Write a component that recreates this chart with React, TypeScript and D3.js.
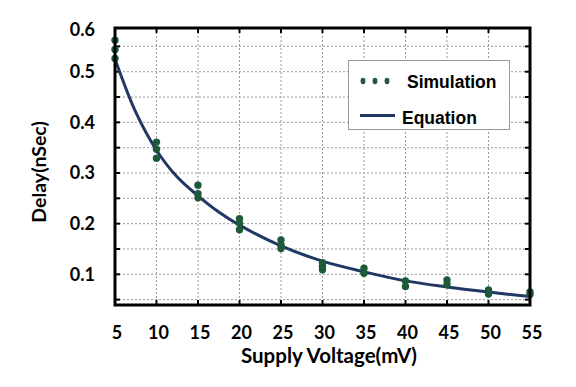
import * as d3 from 'd3';

const W = 576;
const H = 387;

// simulation samples (mV, nSec)
const simVoltage = [5, 5, 5, 10, 10, 10, 15, 15, 15, 20, 20, 20, 25, 25, 25, 30, 30, 30, 35, 35, 40, 40, 45, 45, 50, 50, 55, 55];
const simDelay = [0.562, 0.544, 0.526, 0.361, 0.347, 0.329, 0.276, 0.259, 0.251, 0.21, 0.201, 0.188, 0.168, 0.158, 0.151, 0.123, 0.116, 0.109, 0.112, 0.102, 0.087, 0.076, 0.089, 0.08, 0.069, 0.061, 0.065, 0.06];

// equation curve
const eqVoltage = [5, 7.5, 10, 12.5, 15, 17.5, 20, 25, 30, 35, 40, 45, 50, 55];
const eqDelay = [0.525, 0.42, 0.345, 0.292, 0.255, 0.223, 0.197, 0.156, 0.126, 0.105, 0.087, 0.075, 0.065, 0.056];

const xTicks = [5, 10, 15, 20, 25, 30, 35, 40, 45, 50, 55];
const yTickValues = [0.1, 0.2, 0.3, 0.4, 0.5, 0.6];
const yTickLabels = ['0.1', '0.2', '0.3', '0.4', '0.5', '0.6'];
const yGrid = [0.05, 0.1, 0.15, 0.2, 0.25, 0.3, 0.35, 0.4, 0.45, 0.5, 0.55];

const left = 115;
const right = 530;
const top = 28;
const bottom = 305;

const font = 'Lato, "Open Sans", sans-serif';
const green = '#1e5a3a';
const navy = '#1f3864';

export default function App() {
  const x = d3.scaleLinear().domain([5, 55]).range([left, right]);
  const y = d3.scaleLinear().domain([0.0394, 0.5863]).range([bottom, top]);

  const line = d3
    .line<number>()
    .x((_, i) => x(eqVoltage[i]))
    .y((d) => y(d))
    .curve(d3.curveCatmullRom);

  return (
    <svg width={W} height={H} style={{ position: 'absolute', left: 0, top: 0, background: '#fff' }}>
      {/* grid */}
      {xTicks.slice(1, -1).map((t) => (
        <line key={'gx' + t} x1={x(t)} x2={x(t)} y1={top} y2={bottom} stroke="#999" strokeWidth={1} strokeDasharray="2,2" />
      ))}
      {yGrid.map((t) => (
        <line key={'gy' + t} x1={left} x2={right} y1={y(t)} y2={y(t)} stroke="#999" strokeWidth={1} strokeDasharray="2,2" />
      ))}

      {/* inner ticks */}
      {xTicks.slice(1, -1).map((t) => (
        <g key={'tx' + t}>
          <line x1={x(t)} x2={x(t)} y1={top} y2={top + 5} stroke="#000" strokeWidth={2} />
          <line x1={x(t)} x2={x(t)} y1={bottom} y2={bottom - 5} stroke="#000" strokeWidth={2} />
        </g>
      ))}
      {yGrid.map((t) => (
        <g key={'ty' + t}>
          <line x1={left} x2={left + 5} y1={y(t)} y2={y(t)} stroke="#000" strokeWidth={2} />
          <line x1={right} x2={right - 5} y1={y(t)} y2={y(t)} stroke="#000" strokeWidth={2} />
        </g>
      ))}

      {/* equation */}
      <path d={line(eqDelay) || ''} fill="none" stroke={navy} strokeWidth={3} />

      {/* simulation */}
      {simDelay.map((d, i) => (
        <circle key={'p' + i} cx={x(simVoltage[i])} cy={y(d)} r={3.7} fill={green} />
      ))}

      {/* frame */}
      <rect x={left} y={top} width={right - left} height={bottom - top} fill="none" stroke="#000" strokeWidth={3} />

      {/* tick labels */}
      {xTicks.map((t) => (
        <text key={'lx' + t} x={x(t) + 2} y={338.5} textAnchor="middle" fontFamily={font} fontWeight={700} fontSize={18} fill="#000">
          {t}
        </text>
      ))}
      {yTickValues.map((t, i) => (
        <text key={'ly' + t} x={95} y={Math.max(y(t), top + 2)} dy="0.36em" textAnchor="end" fontFamily={font} fontWeight={700} fontSize={18} fill="#000">
          {yTickLabels[i]}
        </text>
      ))}

      {/* axis titles */}
      <text x={329} y={363} textAnchor="middle" fontFamily={font} fontWeight={700} fontSize={20.5} fill="#000">
        Supply Voltage(mV)
      </text>
      <text transform="translate(46,172) rotate(-90)" textAnchor="middle" fontFamily={font} fontWeight={700} fontSize={19.5} fill="#000">
        Delay(nSec)
      </text>

      {/* legend */}
      <rect x={348.5} y={60.5} width={161} height={69} fill="#fff" stroke="#999" strokeWidth={1} />
      {[363, 375, 387].map((cx) => (
        <ellipse key={'ld' + cx} cx={cx} cy={81} rx={2.4} ry={3.2} fill={green} />
      ))}
      <text x={407} y={88} fontFamily='"Liberation Sans", Arial, sans-serif' fontWeight={700} fontSize={17.5} fill="#000">
        Simulation
      </text>
      <line x1={360} x2={395} y1={115.5} y2={115.5} stroke={navy} strokeWidth={3} />
      <text x={402} y={124} fontFamily='"Liberation Sans", Arial, sans-serif' fontWeight={700} fontSize={17.5} fill="#000">
        Equation
      </text>
    </svg>
  );
}
